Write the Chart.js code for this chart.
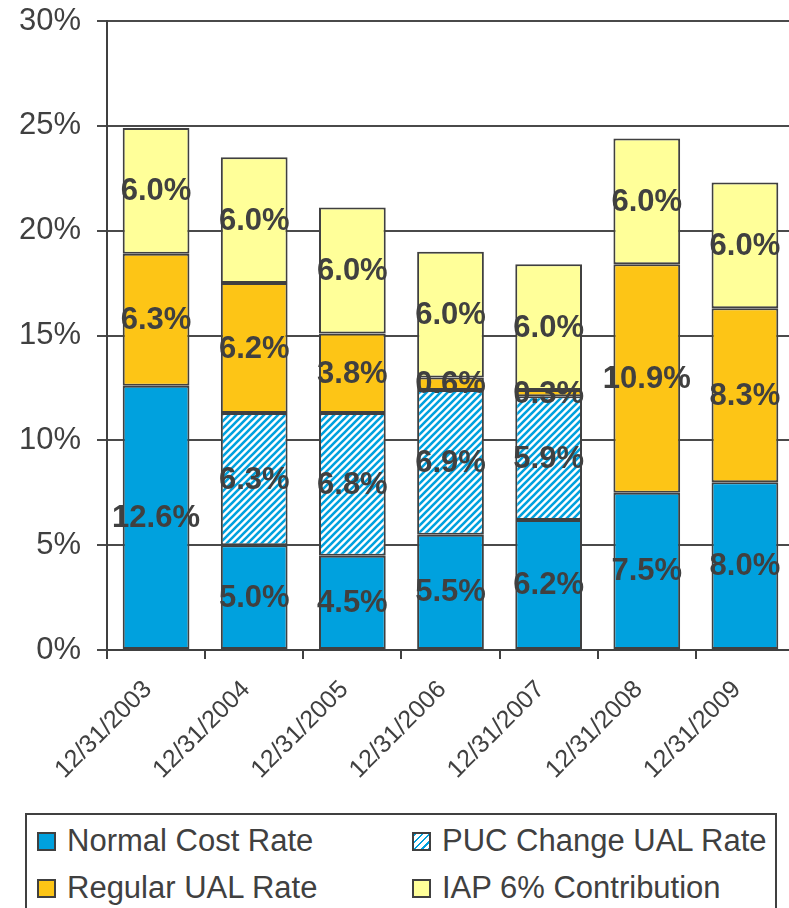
<!DOCTYPE html>
<html>
<head>
<meta charset="utf-8">
<script src="https://cdn.jsdelivr.net/npm/chart.js@4.4.1/dist/chart.umd.min.js"></script>
<style>
  html, body { margin: 0; padding: 0; background: #fff; overflow: hidden; }
  .wrap { position: relative; width: 789px; height: 908px; overflow: hidden; }
  .chart-box { position: absolute; left: 0; top: 0; width: 794px; height: 800px; }
  .legend {
    position: absolute; left: 25px; top: 813px; width: 752px; height: 120px;
    border: 2px solid #404040; box-sizing: border-box;
    font-family: 'Liberation Sans', Arial, sans-serif; font-size: 31px; color: #404040;
  }
  .legend-item { position: absolute; display: flex; align-items: center; white-space: nowrap; }
  .legend-item .sw {
    width: 15px; height: 15px; border: 2px solid #404040; margin-right: 11px; flex: none;
  }
</style>
</head>
<body>
<div class="wrap">
  <div class="chart-box"><canvas id="c"></canvas></div>
  <div class="legend" id="legend"></div>
</div>
<script>
const categories = ['12/31/2003', '12/31/2004', '12/31/2005', '12/31/2006',
  '12/31/2007', '12/31/2008', '12/31/2009'];

const normalCost  = [12.6, 5.0, 4.5, 5.5, 6.2, 7.5, 8.0];
const pucChange   = [ 0.0, 6.3, 6.8, 6.9, 5.9, 0.0, 0.0];
const regularUal  = [ 6.3, 6.2, 3.8, 0.6, 0.3, 10.9, 8.3];
const iapContrib  = [ 6.0, 6.0, 6.0, 6.0, 6.0, 6.0, 6.0];

const yTicks = [0, 5, 10, 15, 20, 25, 30];

const FONT = "'Liberation Sans', Arial, sans-serif";
const INK = '#404040';
const BLUE = '#00A1DE';
const GOLD = '#FDC516';
const PALE = '#FFFF99';

// ---- hatch pattern for PUC ----
const makeHatch = () => {
  const s = 7;
  const c = document.createElement('canvas');
  c.width = s; c.height = s;
  const g = c.getContext('2d');
  g.fillStyle = '#fff';
  g.fillRect(0, 0, s, s);
  g.strokeStyle = BLUE;
  g.lineWidth = 2.6;
  g.beginPath();
  g.moveTo(-1, s + 1); g.lineTo(s + 1, -1);
  g.moveTo(-2, 2); g.lineTo(2, -2);
  g.moveTo(s - 2, s + 2); g.lineTo(s + 2, s - 2);
  g.stroke();
  return g.createPattern(c, 'repeat');
};

const canvas = document.getElementById('c');
const ctx = canvas.getContext('2d');
const hatch = makeHatch();

const series = [
  { label: 'Normal Cost Rate', data: normalCost, color: BLUE },
  { label: 'PUC Change UAL Rate', data: pucChange, color: hatch },
  { label: 'Regular UAL Rate', data: regularUal, color: GOLD },
  { label: 'IAP 6% Contribution', data: iapContrib, color: PALE },
];

const valueLabels = {
  id: 'valueLabels',
  afterDatasetsDraw(chart) {
    const { ctx } = chart;
    ctx.save();
    ctx.font = 'bold 31px ' + FONT;
    ctx.fillStyle = INK;
    ctx.textAlign = 'center';
    ctx.textBaseline = 'middle';
    chart.data.datasets.forEach((ds, di) => {
      const meta = chart.getDatasetMeta(di);
      ds.data.forEach((v, i) => {
        if (!v) return;
        const bar = meta.data[i];
        const yMid = (bar.y + bar.base) / 2;
        ctx.fillText(v.toFixed(1) + '%', bar.x, yMid + 1);
      });
    });
    ctx.restore();
  },
};

new Chart(ctx, {
  type: 'bar',
  data: {
    labels: categories,
    datasets: series.map(s => ({
      label: s.label,
      data: s.data,
      backgroundColor: s.color,
      borderColor: INK,
      borderWidth: 2,
      borderSkipped: false,
      barPercentage: 0.68,
      categoryPercentage: 1.0,
    })),
  },
  options: {
    responsive: true,
    maintainAspectRatio: false,
    animation: false,
    layout: { padding: { top: 21, left: 0, right: 0, bottom: 0 } },
    scales: {
      x: {
        stacked: true,
        afterFit(scale) {
          scale.height = 150;
          scale.paddingLeft = 0;
          scale.paddingRight = 0;
        },
        grid: {
          display: true,
          drawOnChartArea: false,
          offset: true,
          tickLength: 9,
          color: INK,
          lineWidth: 2,
        },
        border: { display: true, color: INK, width: 2 },
        ticks: {
          color: INK,
          font: { family: FONT, size: 25 },
          maxRotation: 45,
          minRotation: 45,
          padding: 16,
          labelOffset: -8,
        },
      },
      y: {
        stacked: true,
        min: 0,
        max: 30,
        afterFit(scale) {
          scale.width = 107;
          scale.paddingTop = 0;
          scale.paddingBottom = 0;
        },
        afterBuildTicks(scale) { scale.ticks = yTicks.map(v => ({ value: v })); },
        grid: { color: '#4a4a4a', lineWidth: 2, tickLength: 10 },
        border: { display: true, color: INK, width: 2 },
        ticks: {
          color: INK,
          font: { family: FONT, size: 31 },
          padding: 16,
          callback: v => v + '%',
        },
      },
    },
    plugins: {
      legend: { display: false },
      tooltip: { enabled: false },
    },
  },
  plugins: [valueLabels],
});

// ---- legend box ----
const legendEl = document.getElementById('legend');
const legendPos = [
  { left: 10, top: 8 },
  { left: 385, top: 8 },
  { left: 10, top: 55 },
  { left: 385, top: 55 },
];
const swatchCss = [
  BLUE,
  'repeating-linear-gradient(135deg, ' + BLUE + ' 0 2px, #fff 2px 5px)',
  GOLD,
  PALE,
];
// order in legend: Normal, PUC / Regular, IAP
[0, 1, 2, 3].forEach((si, k) => {
  const item = document.createElement('div');
  item.className = 'legend-item';
  item.style.left = legendPos[k].left + 'px';
  item.style.top = legendPos[k].top + 'px';
  const sw = document.createElement('span');
  sw.className = 'sw';
  sw.style.background = swatchCss[si];
  const tx = document.createElement('span');
  tx.textContent = series[si].label;
  item.appendChild(sw);
  item.appendChild(tx);
  legendEl.appendChild(item);
});
</script>
</body>
</html>
